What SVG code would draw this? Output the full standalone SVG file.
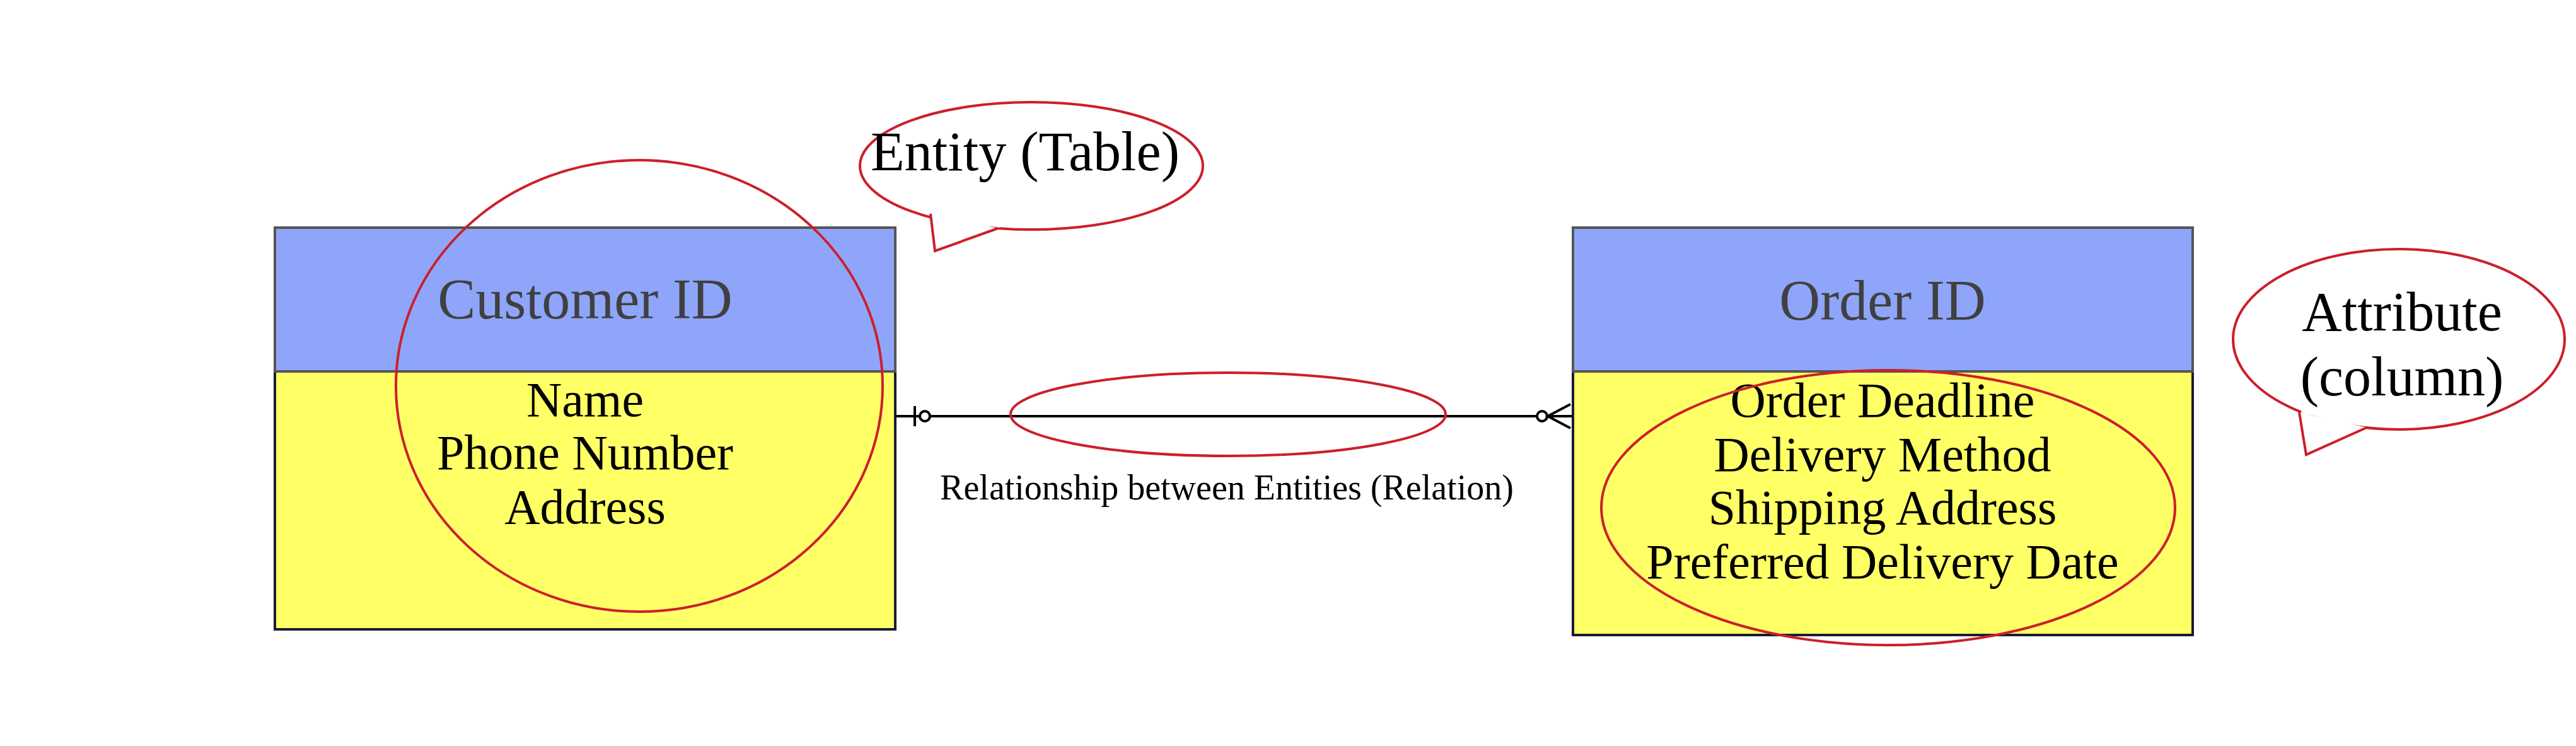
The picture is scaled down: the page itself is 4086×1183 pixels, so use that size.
<svg xmlns="http://www.w3.org/2000/svg" width="4086" height="1183" viewBox="0 0 4086 1183">
<style>
text{font-family:"Liberation Serif","Times New Roman",serif;text-anchor:middle}
.hdr{fill:#8EA5FA;stroke:#555;stroke-width:4}
.body{fill:#FFFF66;stroke:#1a1a33;stroke-width:4}
.ht{font-size:90px;fill:#404040}
.bt{font-size:78px;fill:#000}
.red{fill:none;stroke:#CC1F2A;stroke-width:4}
.bub{fill:#fff;stroke:#CC1F2A;stroke-width:4}
.ct{font-size:88px;fill:#000}
</style>
<rect width="4086" height="1183" fill="#fff"/>
<g id="customer">
<rect class="body" x="436" y="589" width="984" height="409"/>
<rect class="hdr" x="436" y="361" width="984" height="228"/>
<text class="ht" x="928" y="505">Customer ID</text>
<text class="bt" x="928" y="660">Name</text>
<text class="bt" x="928" y="744">Phone Number</text>
<text class="bt" x="928" y="830">Address</text>
</g>
<g id="order">
<rect class="body" x="2495" y="589" width="983" height="418"/>
<rect class="hdr" x="2495" y="361" width="983" height="228"/>
<text class="ht" x="2986" y="507">Order ID</text>
<text class="bt" x="2986" y="661">Order Deadline</text>
<text class="bt" x="2986" y="747">Delivery Method</text>
<text class="bt" x="2986" y="831">Shipping Address</text>
<text class="bt" x="2986" y="917">Preferred Delivery Date</text>
</g>
<g id="connectors" fill="none" stroke="#000" stroke-width="4">
<line x1="1420" y1="660" x2="2495" y2="660"/>
<line x1="1451" y1="644" x2="1451" y2="676"/>
<circle cx="1467" cy="660" r="8" fill="#fff"/>
<circle cx="2446" cy="660" r="8" fill="#fff"/>
<polyline points="2491,641 2455,660 2491,679"/>
</g>
<g id="relation-label">
<ellipse class="red" cx="1948" cy="657" rx="345" ry="66"/>
<text x="1946" y="792" font-size="56" fill="#000">Relationship between Entities (Relation)</text>
</g>
<g id="highlights">
<ellipse class="red" cx="1014" cy="612" rx="386" ry="358"/>
<ellipse class="red" cx="2995" cy="805" rx="455" ry="218"/>
</g>
<g id="entity-callout">
<ellipse class="bub" cx="1636" cy="263" rx="272" ry="101"/>
<path class="bub" d="M1476,339 L1483,398 L1583,362" />
<path d="M1479,334 L1586,356" stroke="#fff" stroke-width="10"/>
<text class="ct" x="1626" y="270">Entity (Table)</text>
</g>
<g id="attribute-callout">
<ellipse class="bub" cx="3805" cy="538" rx="263" ry="143"/>
<path class="bub" d="M3647,654 L3658,721 L3754,678"/>
<path d="M3651,650 L3752,671" stroke="#fff" stroke-width="10"/>
<text class="ct" x="3810" y="524">Attribute</text>
<text class="ct" x="3810" y="627">(column)</text>
</g>
</svg>
